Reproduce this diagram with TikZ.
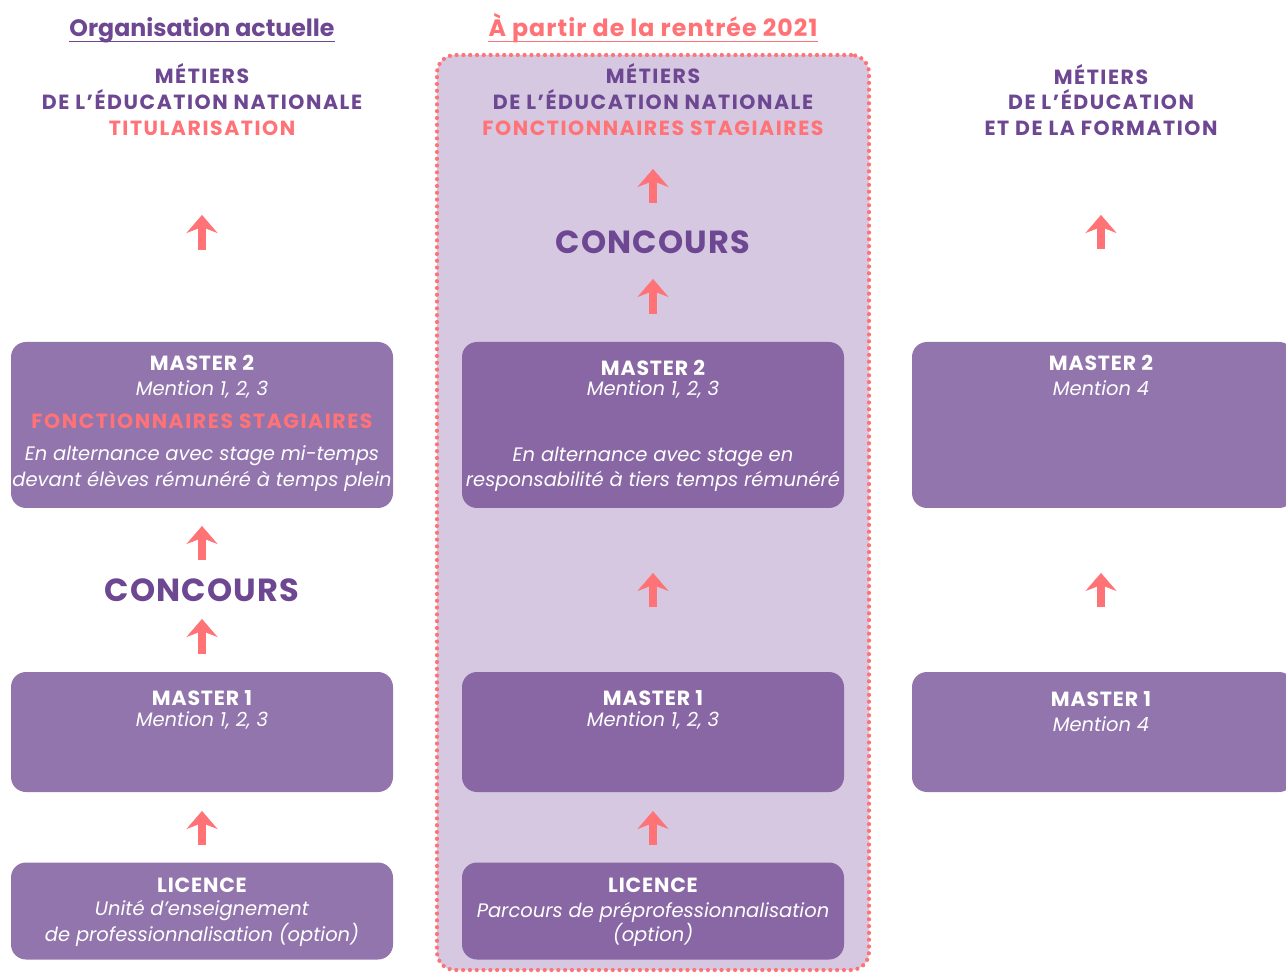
\documentclass[tikz,border=0pt]{standalone}
\usepackage{fontspec}
\setmainfont{Poppins}
\usetikzlibrary{arrows.meta}
\definecolor{tpurple}{HTML}{6E4793}
\definecolor{coral}{HTML}{FF7276}
\definecolor{boxA}{HTML}{9275AD}
\definecolor{boxB}{HTML}{8967A5}
\definecolor{bgmid}{HTML}{D5C8E0}
\tikzset{
  box/.style={rounded corners=15pt, fill=boxA, minimum width=382pt, inner sep=0pt},
  boxm/.style={box, fill=boxB},
  txt/.style={anchor=base, inner sep=0pt},
  hd/.style={txt, text=tpurple, font=\fontsize{20.5}{22}\selectfont\bfseries\addfontfeature{LetterSpace=7.5}},
  hdc/.style={hd, text=coral},
  ttl/.style={txt, font=\fontsize{23.7}{26}\selectfont\bfseries},
  conc/.style={txt, text=tpurple, font=\fontsize{32}{34}\selectfont\bfseries\addfontfeature{LetterSpace=4}},
  bt/.style={txt, text=white, font=\fontsize{20.5}{22}\selectfont\bfseries\addfontfeature{LetterSpace=4}},
  bi/.style={txt, text=white, font=\fontsize{19.5}{22}\selectfont\itshape},
  bc/.style={hd, text=coral},
  arr/.style={coral, line width=7.5pt, -{Stealth[length=18pt,width=31pt,inset=6pt,line width=0.5pt]}},
}
\begin{document}
\begin{tikzpicture}[x=1pt,y=-1pt]
\useasboundingbox[fill=white] (0,0) rectangle (1286,973);

% middle dotted frame
\node[fill=bgmid, draw=coral, line width=4.2pt, line cap=round, dash pattern=on 0pt off 6.8pt,
      rounded corners=18pt, minimum width=432pt, minimum height=915pt, inner sep=0pt] (frame) at (653,512.5) {};

% titles
\node[ttl, text=tpurple] (t1) at (202,37) {Organisation actuelle};
\draw[tpurple, line width=1.6pt] ([yshift=-4.7pt]t1.base west) -- ([yshift=-4.7pt]t1.base east);
\node[ttl, text=coral, font=\fontsize{23.7}{26}\selectfont\bfseries\addfontfeature{LetterSpace=4.5}] (t2) at (653,37) {À partir de la rentrée 2021};
\draw[coral, line width=1.6pt] ([yshift=-4.7pt]t2.base west) -- ([yshift=-4.7pt]t2.base east);

% headers
\node[hd] (h1a) at (202,84) {MÉTIERS};
\node[hd] (h1b) at (202,110) {DE L’ÉDUCATION NATIONALE};
\node[hdc] (h1c) at (202,136) {TITULARISATION};
\node[hd] (h2a) at (653,84) {MÉTIERS};
\node[hd] (h2b) at (653,110) {DE L’ÉDUCATION NATIONALE};
\node[hdc] (h2c) at (653,136) {FONCTIONNAIRES STAGIAIRES};
\node[hd] (h3a) at (1101,85) {MÉTIERS};
\node[hd] (h3b) at (1101,110) {DE L’ÉDUCATION};
\node[hd] (h3c) at (1101,136) {ET DE LA FORMATION};

% concours
\node[conc] (c1) at (202,601.5) {CONCOURS};
\node[conc] (c2) at (653,254) {CONCOURS};

% boxes
\node[box, minimum height=166pt] (L2) at (202,425) {};
\node[box, minimum height=120pt] (L1) at (202,732) {};
\node[box, minimum height=97pt] (L0) at (202,911) {};
\node[boxm, minimum height=166pt] (M2) at (653,425) {};
\node[boxm, minimum height=120pt] (M1) at (653,732) {};
\node[boxm, minimum height=97pt] (M0) at (653,911) {};
\node[box, minimum height=166pt] (R2) at (1103,425) {};
\node[box, minimum height=120pt] (R1) at (1103,732) {};

% box texts left
\node[bt] (L2a) at (202,370.5) {MASTER 2};
\node[bi] (L2b) at (202,396) {Mention 1, 2, 3};
\node[bc] (L2c) at (202,429) {FONCTIONNAIRES STAGIAIRES};
\node[bi] (L2d) at (202,461) {En alternance avec stage mi-temps};
\node[bi] (L2e) at (202,487) {devant élèves rémunéré à temps plein};
\node[bt] (L1a) at (202,705.5) {MASTER 1};
\node[bi] (L1b) at (202,726.5) {Mention 1, 2, 3};
\node[bt] (L0a) at (202,892) {LICENCE};
\node[bi] (L0b) at (202,915) {Unité d’enseignement};
\node[bi] (L0c) at (202,941) {de professionnalisation (option)};

% box texts middle
\node[bt] (M2a) at (653,375.5) {MASTER 2};
\node[bi] (M2b) at (653,396) {Mention 1, 2, 3};
\node[bi] (M2d) at (653,461.5) {En alternance avec stage en};
\node[bi] (M2e) at (653,487) {responsabilité à tiers temps rémunéré};
\node[bt] (M1a) at (653,705.5) {MASTER 1};
\node[bi] (M1b) at (653,726.5) {Mention 1, 2, 3};
\node[bt] (M0a) at (653,892) {LICENCE};
\node[bi] (M0b) at (653,917) {Parcours de préprofessionnalisation};
\node[bi] (M0c) at (653,941) {(option)};

% box texts right
\node[bt] (R2a) at (1101,371) {MASTER 2};
\node[bi] (R2b) at (1101,396) {Mention 4};
\node[bt] (R1a) at (1101,706) {MASTER 1};
\node[bi] (R1b) at (1101,731.5) {Mention 4};

% arrow end points
\coordinate (a1s) at (202,250); \coordinate (a1e) at (202,215);
\coordinate (a2s) at (202,560); \coordinate (a2e) at (202,526);
\coordinate (a3s) at (202,654); \coordinate (a3e) at (202,619);
\coordinate (a4s) at (202,845); \coordinate (a4e) at (202,811);
\coordinate (b1s) at (653,203); \coordinate (b1e) at (653,169);
\coordinate (b2s) at (653,314); \coordinate (b2e) at (653,279);
\coordinate (b3s) at (653,607); \coordinate (b3e) at (653,573);
\coordinate (b4s) at (653,845); \coordinate (b4e) at (653,811);
\coordinate (r1s) at (1101,249); \coordinate (r1e) at (1101,215);
\coordinate (r2s) at (1101,607); \coordinate (r2e) at (1101,573);

\draw[arr] (a1s) -- (a1e);
\draw[arr] (a2s) -- (a2e);
\draw[arr] (a3s) -- (a3e);
\draw[arr] (a4s) -- (a4e);
\draw[arr] (b1s) -- (b1e);
\draw[arr] (b2s) -- (b2e);
\draw[arr] (b3s) -- (b3e);
\draw[arr] (b4s) -- (b4e);
\draw[arr] (r1s) -- (r1e);
\draw[arr] (r2s) -- (r2e);
\end{tikzpicture}
\end{document}
